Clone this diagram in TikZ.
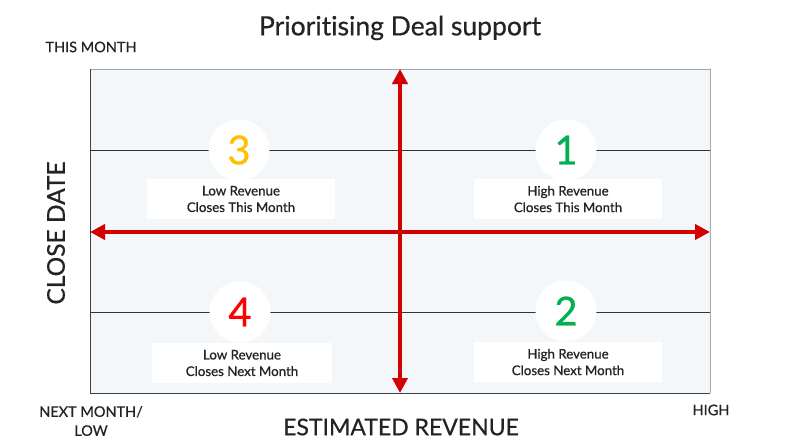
\documentclass[tikz,border=0pt]{standalone}
\usepackage{fontspec}
\setmainfont{Lato}[FakeBold=0.6,Ligatures=NoCommon]
\usetikzlibrary{arrows.meta}
\definecolor{axisred}{RGB}{212,0,0}
\definecolor{numgreen}{RGB}{0,176,80}
\definecolor{numyellow}{RGB}{255,192,0}
\definecolor{numred}{RGB}{255,0,0}
\definecolor{bgfill}{RGB}{244,247,250}
\definecolor{txt}{RGB}{35,35,35}
\tikzset{
  axis/.style={draw=axisred, line width=4pt, {Triangle[width=15pt,length=15pt]}-{Triangle[width=15pt,length=15pt]}},
  numcirc/.style={circle, fill=white, minimum size=61pt, inner sep=0pt, font=\fontsize{40}{40}\selectfont},
  labelbox/.style={fill=white, minimum width=188pt, minimum height=40pt, align=center, inner sep=0pt, text=txt, font=\fontsize{13.3}{16.5}\selectfont},
  axislabel/.style={text=txt, inner sep=0pt},
  divline/.style={draw=black!80, line width=0.7pt}
}
\begin{document}
\begin{tikzpicture}[x=1pt,y=-1pt]
\useasboundingbox (0,0) rectangle (797,447);
% frame
\coordinate (tl) at (90,69);
\coordinate (br) at (710,393);
\fill[bgfill] (tl) rectangle (br);
\draw[gray!70, line width=1pt] (90,69) -- (710,69) -- (710,393);
\draw[black!75, line width=1pt] (90,69) -- (90,393) -- (710,393);
% divider lines
\coordinate (ul) at (90,150); \coordinate (ur) at (710,150);
\coordinate (ll) at (90,312); \coordinate (lr) at (710,312);
\draw[divline] (ul) -- (ur);
\draw[divline] (ll) -- (lr);
% label boxes
\node[labelbox] (b3) at (241,199) {Low Revenue\\Closes This Month};
\node[labelbox] (b1) at (568,199) {High Revenue\\Closes This Month};
\node[labelbox, minimum width=180pt] (b4) at (242,363) {Low Revenue\\Closes Next Month};
\node[labelbox] (b2) at (568,362) {High Revenue\\Closes Next Month};
% number circles
\node[numcirc, text=numyellow] (n3) at (239,150) {3};
\node[numcirc, text=numgreen] (n1) at (566,150) {1};
\node[numcirc, text=numred] (n4) at (240,312) {4};
\node[numcirc, text=numgreen] (n2) at (566,311) {2};
% axes
\coordinate (vt) at (400,69); \coordinate (vb) at (400,393);
\coordinate (hl) at (90,232); \coordinate (hr) at (710,232);
\draw[axis] (hl) -- (hr);
\draw[axis] (vb) -- (vt);
% texts
\node[axislabel, font=\fontsize{26.5}{26.5}\selectfont] (title) at (400,28) {Prioritising Deal support};
\node[axislabel, font=\fontsize{14.5}{14.5}\selectfont] (thism) at (91,47) {THIS MONTH};
\node[axislabel, font=\fontsize{24.5}{24.5}\selectfont, rotate=90] (close) at (56,233) {CLOSE DATE};
\node[axislabel, font=\fontsize{23}{23}\selectfont] (est) at (401,427) {ESTIMATED REVENUE};
\node[axislabel, align=center, font=\fontsize{14.5}{19}\selectfont] (next) at (91,421) {NEXT MONTH/\\LOW};
\node[axislabel, font=\fontsize{14.5}{14.5}\selectfont] (high) at (711,410) {HIGH};
\end{tikzpicture}
\end{document}
